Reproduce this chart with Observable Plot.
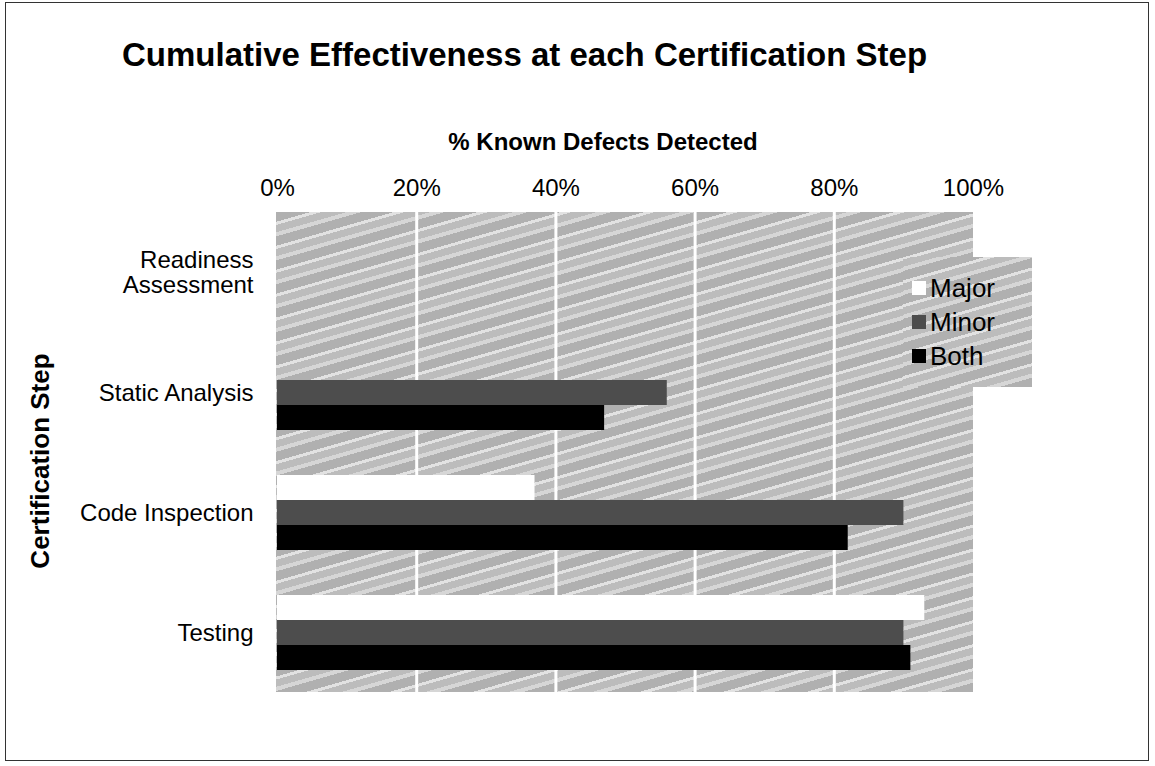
<!DOCTYPE html>
<html>
<head>
<meta charset="utf-8">
<script src="https://cdn.jsdelivr.net/npm/d3@7"></script>
<script src="https://cdn.jsdelivr.net/npm/@observablehq/plot@0.6"></script>
<style>
  html, body { margin: 0; padding: 0; background: #fff; }
  body { width: 1155px; height: 766px; overflow: hidden; position: relative;
         font-family: "Liberation Sans", Arial, Helvetica, sans-serif; color: #000; }
  .abs { position: absolute; white-space: nowrap; line-height: 1; }
  #border { position: absolute; left: 5px; top: 2px; width: 1144px; height: 759px; border: 1.5px solid #333; box-sizing: border-box; }
  #title { left: 122px; top: 38px; font-size: 33px; font-weight: bold; }
  #xlabel { left: 603px; top: 130px; font-size: 24px; font-weight: bold; transform: translateX(-50%); }
  #ylabel { left: 40px; top: 461px; font-size: 26px; font-weight: bold; transform: translate(-50%, -50%) rotate(-90deg); }
  .tex { background: repeating-linear-gradient(-16deg, #b0b0b0 0px, #b0b0b0 9px, #d6d6d6 9px, #d6d6d6 13px, #bcbcbc 13px, #bcbcbc 20px, #e2e2e2 20px, #e2e2e2 23px); }
  #plotbg { position: absolute; left: 276px; top: 212px; width: 697px; height: 480px; }
  #chart { position: absolute; left: 0; top: 0; }
  #legend { position: absolute; left: 903px; top: 257px; width: 129px; height: 130px; }
  .item { position: absolute; left: 9px; font-size: 26px; line-height: 1; display: flex; align-items: center; }
  .sw { width: 14px; height: 14px; margin-right: 4px; }
</style>
</head>
<body>
<div id="border"></div>
<div id="plotbg" class="tex"></div>
<div id="chart"></div>
<div id="title" class="abs">Cumulative Effectiveness at each Certification Step</div>
<div id="xlabel" class="abs">% Known Defects Detected</div>
<div id="ylabel" class="abs">Certification Step</div>
<div id="legend" class="tex"></div>
<script>
const categories = ["Readiness Assessment", "Static Analysis", "Code Inspection", "Testing"];
const series = ["Major", "Minor", "Both"];
const major = [0, 0, 37, 93];
const minor = [0, 56, 90, 90];
const both = [0, 47, 82, 91];
const xTicks = [0, 20, 40, 60, 80, 100];
const seriesColors = ["#ffffff", "#4d4d4d", "#000000"];

const valuesBySeries = {Major: major, Minor: minor, Both: both};
const data = [];
categories.forEach((c, i) => series.forEach(s => data.push({step: c, series: s, value: valuesBySeries[s][i]})));

const chart = Plot.plot({
  width: 1155,
  height: 766,
  marginTop: 212,
  marginBottom: 74,
  marginLeft: 277,
  marginRight: 182,
  style: {fontFamily: "'Liberation Sans', Arial, Helvetica, sans-serif", fontSize: "24px", color: "#000", background: "transparent", overflow: "visible"},
  x: {domain: [0, 100], axis: "top", ticks: xTicks, tickFormat: d => d + "%", tickSize: 0, tickPadding: 17, label: null},
  y: {domain: series, axis: null, paddingInner: 0, paddingOuter: 0.9},
  fy: {domain: categories, padding: 0, label: null},
  color: {domain: series, range: seriesColors},
  marks: [
    Plot.axisFy({anchor: "left", label: null, tickSize: 0, tickPadding: 24, lineHeight: 1.05,
                 tickFormat: d => d === "Readiness Assessment" ? "Readiness\nAssessment" : d}),
    Plot.gridX(xTicks.slice(1, -1), {stroke: "#fff", strokeOpacity: 1, strokeWidth: 3}),
    Plot.barX(data, {x: "value", y: "series", fy: "step", fill: "series", inset: 0})
  ]
});
document.getElementById("chart").appendChild(chart);

// legend
const legend = document.getElementById("legend");
series.forEach((s, i) => {
  const it = document.createElement("div");
  it.className = "item";
  it.style.top = (18 + i * 34) + "px";
  const sw = document.createElement("span");
  sw.className = "sw";
  sw.style.background = seriesColors[i];
  const tx = document.createElement("span");
  tx.textContent = s;
  it.appendChild(sw); it.appendChild(tx);
  legend.appendChild(it);
});
</script>
</body>
</html>
